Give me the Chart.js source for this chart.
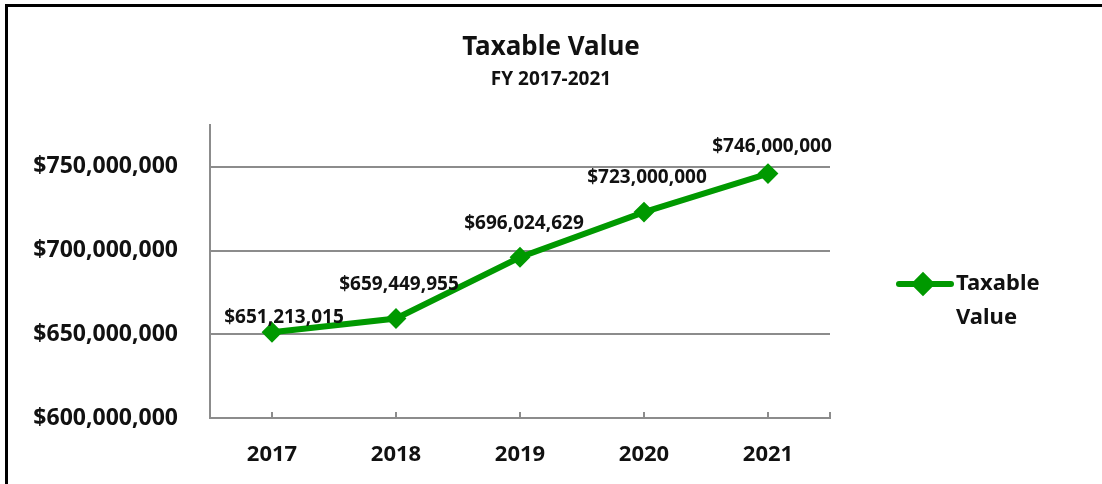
<!DOCTYPE html>
<html>
<head>
<meta charset="utf-8">
<title>Taxable Value</title>
<script src="https://cdn.jsdelivr.net/npm/chart.js@4/dist/chart.umd.min.js"></script>
<style>
  html, body { margin: 0; padding: 0; background: #fff; overflow: hidden; }
  #wrap { position: relative; width: 1102px; height: 484px; }
  #frame { position: absolute; left: 5px; top: 4px; width: 1200px; height: 600px;
           border-left: 3px solid #000; border-top: 3px solid #000; pointer-events: none; }
  canvas { position: absolute; left: 0; top: 0; }
</style>
</head>
<body>
<div id="wrap">
  <canvas id="chart" width="1102" height="484"></canvas>
  <div id="frame"></div>
</div>
<script>
const years = ["2017", "2018", "2019", "2020", "2021"];
const taxableValue = [651213015, 659449955, 696024629, 723000000, 746000000];
const yTicks = [600000000, 650000000, 700000000, 750000000];

const green = "#009900";
const gridGray = "#8c8c8c";
const fontFamily = "'Noto Sans', 'Open Sans', sans-serif";

function money(v) {
  return "$" + v.toLocaleString("en-US");
}

// labels sit above each point, nudged like the original
const labelOffsets = [[12, -15], [3, -34], [4, -34], [3, -34], [4, -27]];

const pointLabels = {
  id: "pointLabels",
  afterDatasetsDraw(chart) {
    const ctx = chart.ctx;
    const meta = chart.getDatasetMeta(0);
    ctx.save();
    ctx.font = "bold 19px " + fontFamily;
    ctx.fillStyle = "#111";
    ctx.textAlign = "center";
    ctx.textBaseline = "middle";
    meta.data.forEach((pt, i) => {
      const off = labelOffsets[i];
      ctx.fillText(money(taxableValue[i]), pt.x + off[0], pt.y + off[1]);
    });
    ctx.restore();
  }
};

// small tick marks on the category axis, pointing up into the plot
const xTickMarks = {
  id: "xTickMarks",
  afterDraw(chart) {
    const ctx = chart.ctx;
    const x = chart.scales.x;
    const bottom = chart.chartArea.bottom;
    ctx.save();
    ctx.strokeStyle = gridGray;
    ctx.lineWidth = 2;
    ctx.beginPath();
    years.forEach((_, i) => {
      const px = Math.round(x.getPixelForValue(i));
      ctx.moveTo(px, bottom - 6);
      ctx.lineTo(px, bottom);
    });
    ctx.moveTo(chart.chartArea.right, bottom - 6);
    ctx.lineTo(chart.chartArea.right, bottom);
    ctx.stroke();
    ctx.restore();
  }
};

// legend on the right, text wrapped on two lines
const sideLegend = {
  id: "sideLegend",
  afterDraw(chart) {
    const ctx = chart.ctx;
    const ds = chart.data.datasets[0];
    const y = 284;
    ctx.save();
    ctx.strokeStyle = green;
    ctx.lineWidth = 6;
    ctx.lineCap = "round";
    ctx.beginPath();
    ctx.moveTo(899, y);
    ctx.lineTo(951, y);
    ctx.stroke();
    Chart.helpers.drawPoint(ctx, { pointStyle: "rectRot", radius: 8, borderWidth: 1 }, 923, y);
    ctx.fillStyle = green;
    ctx.fill();
    ctx.fillStyle = "#111";
    ctx.font = "bold 22px " + fontFamily;
    ctx.textAlign = "left";
    ctx.textBaseline = "middle";
    const words = ds.label.split(" ");
    ctx.fillText(words[0], 956, y);
    ctx.fillText(words[1], 956, y + 34);
    ctx.restore();
  }
};

new Chart(document.getElementById("chart"), {
  type: "line",
  data: {
    labels: years,
    datasets: [{
      label: "Taxable Value",
      data: taxableValue,
      borderColor: green,
      backgroundColor: green,
      borderWidth: 6,
      pointStyle: "rectRot",
      pointRadius: 9,
      pointHoverRadius: 9,
      pointBorderWidth: 2,
      pointBackgroundColor: green,
      pointBorderColor: green,
      tension: 0
    }]
  },
  options: {
    responsive: false,
    animation: false,
    devicePixelRatio: 1,
    layout: { padding: 0 },
    plugins: {
      legend: { display: false },
      tooltip: { enabled: false },
      title: {
        display: true,
        text: "Taxable Value",
        color: "#111",
        font: { family: fontFamily, size: 26, weight: "bold" },
        padding: { top: 32, bottom: 2 }
      },
      subtitle: {
        display: true,
        text: "FY 2017-2021",
        color: "#111",
        font: { family: fontFamily, size: 19, weight: "bold" },
        padding: { top: 3, bottom: 34 }
      }
    },
    scales: {
      x: {
        offset: true,
        grid: { display: false, drawTicks: false },
        border: { display: true, color: gridGray, width: 2 },
        ticks: {
          color: "#111",
          padding: 24,
          font: { family: fontFamily, size: 22, weight: "bold" }
        },
        afterFit(scale) { scale.height = 66; }
      },
      y: {
        min: 600000000,
        max: 775000000,
        grid: { color: gridGray, lineWidth: 2, drawTicks: false },
        border: { display: true, color: gridGray, width: 2 },
        afterBuildTicks(scale) {
          scale.ticks = yTicks.map(v => ({ value: v }));
        },
        ticks: {
          color: "#111",
          padding: 32,
          font: { family: fontFamily, size: 23, weight: "bold" },
          callback: v => money(v)
        },
        afterFit(scale) { scale.width = 210; }
      },
      // empty axis that keeps the legend space on the right
      side: {
        position: "right",
        display: true,
        grid: { display: false, drawTicks: false },
        border: { display: false },
        ticks: { display: false },
        afterFit(scale) { scale.width = 272; }
      }
    }
  },
  plugins: [pointLabels, xTickMarks, sideLegend]
});
</script>
</body>
</html>
